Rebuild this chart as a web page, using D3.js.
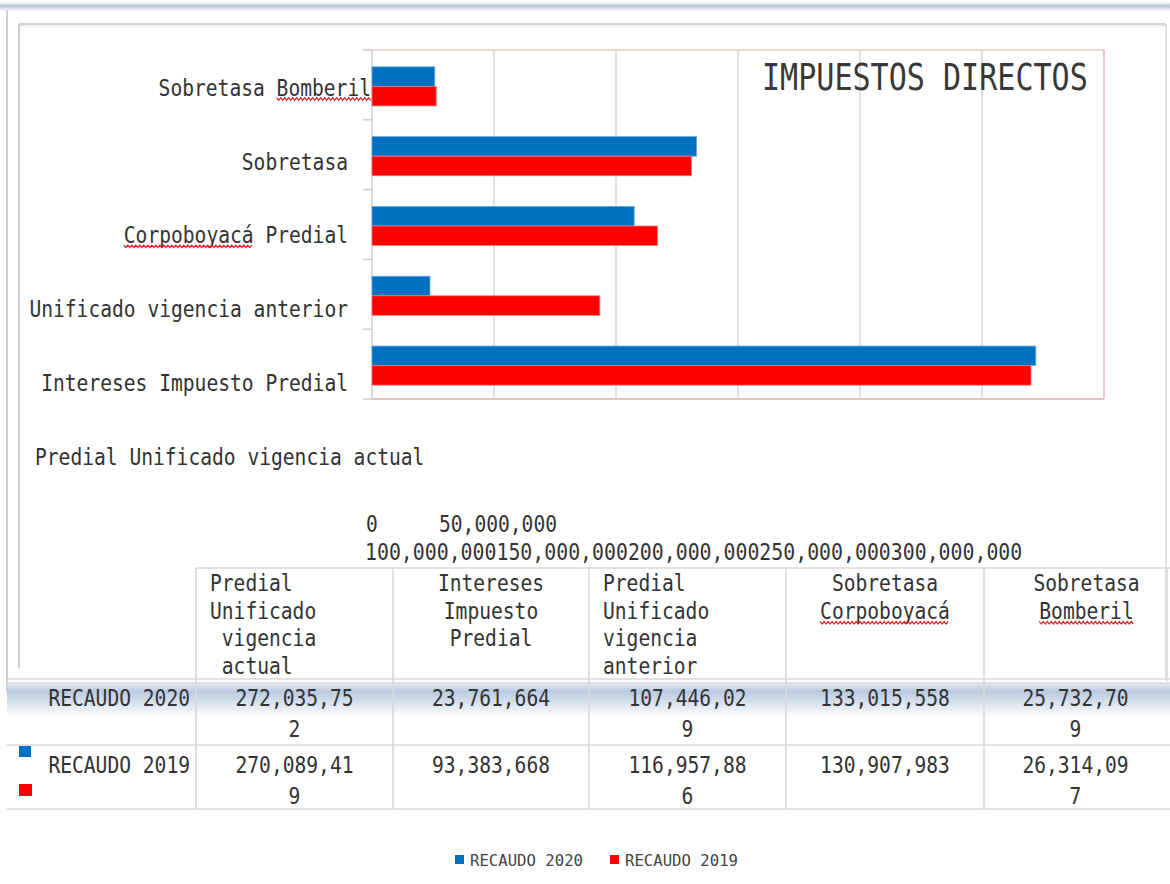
<!DOCTYPE html>
<html>
<head>
<meta charset="utf-8">
<script src="https://cdn.jsdelivr.net/npm/d3@7"></script>
<style>
  html, body { margin: 0; padding: 0; background: #fff; }
  svg { display: block; }
</style>
</head>
<body>
<svg id="chart" width="1170" height="884"></svg>
<script>
// ---- data ----
const categories = [
  "Predial Unificado vigencia actual",
  "Intereses Impuesto Predial",
  "Predial Unificado vigencia anterior",
  "Sobretasa Corpoboyacá",
  "Sobretasa Bomberil"
];
const seriesNames = ["RECAUDO 2020", "RECAUDO 2019"];
const recaudo2020 = [272035752, 23761664, 107446029, 133015558, 25732709];
const recaudo2019 = [270089419, 93383668, 116957886, 130907983, 26314097];
const seriesColors = ["#0070C0", "#FF0000"];
const xTicks = [0, 50000000, 100000000, 150000000, 200000000, 250000000, 300000000];
const chartTitle = "IMPUESTOS DIRECTOS";

// category axis text as it flows beside the bars
const axisTextLines = [
  "Sobretasa Bomberil",
  "Sobretasa",
  "Corpoboyacá Predial",
  "Unificado vigencia anterior",
  "Intereses Impuesto Predial"
];
const axisTextTail = "Predial Unificado vigencia actual";

// data table header lines per column
const headerLines = [
  ["Predial", "Unificado", " vigencia", " actual"],
  ["Intereses", "Impuesto", "Predial"],
  ["Predial", "Unificado", "vigencia", "anterior"],
  ["Sobretasa", "Corpoboyacá"],
  ["Sobretasa", "Bomberil"]
];
const headerAlign = ["start", "middle", "start", "middle", "middle"];
const cellWrap = [10, 11, 10, 11, 9];   // characters that fit on one line per column
const underlinedWords = ["Corpoboyacá", "Bomberil"];

// ---- setup ----
const svg = d3.select("#chart");
const FONT = "'DejaVu Sans Mono', monospace";
const FS = 23.6;          // body text size
const CW = FS * 0.5;      // half-width glyph advance
const TXT = "#333333";
const fmt = d3.format(",");

// text helper: fixed half-width advance per character
function monoText(g, str, x, y, opts = {}) {
  const fs = opts.size || FS;
  const cw = opts.cw || fs * 0.5;
  const w = str.length * cw;
  let x0 = x;
  if (opts.anchor === "end") x0 = x - w;
  else if (opts.anchor === "middle") x0 = x - w / 2;
  g.append("text")
    .attr("x", x0).attr("y", y)
    .attr("font-family", FONT)
    .attr("font-size", fs)
    .attr("fill", opts.fill || TXT)
    .attr("textLength", w)
    .attr("lengthAdjust", "spacingAndGlyphs")
    .style("white-space", "pre")
    .text(str);
  return { x0, w, cw };
}

// red spell-check squiggle
function squiggle(g, x1, x2, y) {
  const pts = [];
  const step = 2;
  for (let x = x1, i = 0; x <= x2; x += step, i++) {
    pts.push([x, y + (i % 2 === 0 ? -1.3 : 1.3)]);
  }
  g.append("path")
    .attr("d", d3.line()(pts))
    .attr("fill", "none")
    .attr("stroke", "#e8191e")
    .attr("stroke-width", 1.1);
}

function underlineWord(g, str, info, y) {
  underlinedWords.forEach(word => {
    const i = str.indexOf(word);
    if (i >= 0) squiggle(g, info.x0 + i * info.cw, info.x0 + (i + word.length) * info.cw, y);
  });
}

// ---- gradients ----
const defs = svg.append("defs");
const band = defs.append("linearGradient").attr("id", "bandGrad")
  .attr("x1", 0).attr("y1", 0).attr("x2", 0).attr("y2", 1);
band.append("stop").attr("offset", "0%").attr("stop-color", "#e4ebf4");
band.append("stop").attr("offset", "25%").attr("stop-color", "#b9cadf");
band.append("stop").attr("offset", "100%").attr("stop-color", "#ffffff");
const topBand = defs.append("linearGradient").attr("id", "topGrad")
  .attr("x1", 0).attr("y1", 0).attr("x2", 0).attr("y2", 1);
topBand.append("stop").attr("offset", "0%").attr("stop-color", "#ffffff");
topBand.append("stop").attr("offset", "45%").attr("stop-color", "#b4c5da");
topBand.append("stop").attr("offset", "100%").attr("stop-color", "#ffffff");

// ---- frames ----
const frame = svg.append("g");
frame.append("rect").attr("x", 0).attr("y", 2).attr("width", 1170).attr("height", 9)
  .attr("fill", "url(#topGrad)");
const frameLine = (x1, y1, x2, y2, c = "#c4c4c4", w = 1.6) =>
  frame.append("line").attr("x1", x1).attr("y1", y1).attr("x2", x2).attr("y2", y2)
    .attr("stroke", c).attr("stroke-width", w);
frameLine(7, 10, 7, 692);
frameLine(19, 24, 19, 668);
frameLine(19, 24, 1166, 24);
frameLine(20, 26, 1165, 26, "#ececec", 1.5);
frameLine(1166, 24, 1166, 680, "#d6d6d6", 1.5);

// ---- plot area ----
const plot = { left: 372, right: 1104, top: 50, bottom: 399 };
const x = d3.scaleLinear().domain([0, d3.max(xTicks)]).range([plot.left, plot.right]);
const y = d3.scaleBand().domain(categories.slice().reverse())
  .range([plot.top + 1.5, plot.bottom + 1.5]).paddingInner(0.44).paddingOuter(0.22);
const ySub = d3.scaleBand().domain(seriesNames).range([0, y.bandwidth()]);

const gp = svg.append("g");
// vertical gridlines
gp.selectAll("line.grid").data(xTicks.slice(1, -1)).join("line")
  .attr("x1", d => x(d)).attr("x2", d => x(d))
  .attr("y1", plot.top).attr("y2", plot.bottom)
  .attr("stroke", "#d8d8d8").attr("stroke-width", 1.5);
// plot border
gp.append("line").attr("x1", 363).attr("x2", plot.right).attr("y1", plot.top).attr("y2", plot.top)
  .attr("stroke", "#f2d6d2").attr("stroke-width", 2);
gp.append("line").attr("x1", plot.right).attr("x2", plot.right).attr("y1", plot.top).attr("y2", plot.bottom)
  .attr("stroke", "#ecc9c4").attr("stroke-width", 2);
gp.append("line").attr("x1", plot.left).attr("x2", plot.right).attr("y1", plot.bottom).attr("y2", plot.bottom)
  .attr("stroke", "#e6c2bc").attr("stroke-width", 2);
// category axis with ticks at the band boundaries
gp.append("line").attr("x1", plot.left).attr("x2", plot.left).attr("y1", plot.top).attr("y2", plot.bottom)
  .attr("stroke", "#cfcfcf").attr("stroke-width", 1.5);
const boundary = d3.scaleLinear().domain([0, categories.length]).range([plot.top, plot.bottom]);
gp.selectAll("line.ytick").data(d3.range(categories.length + 1)).join("line")
  .attr("x1", plot.left - 9).attr("x2", plot.left)
  .attr("y1", i => boundary(i)).attr("y2", i => boundary(i))
  .attr("stroke", "#d0d0d0").attr("stroke-width", 1.5);

// bars
const rows = categories.map((c, i) => ({ cat: c, vals: [recaudo2020[i], recaudo2019[i]] }));
const gb = gp.selectAll("g.cat").data(rows).join("g")
  .attr("transform", d => `translate(0,${y(d.cat)})`);
gb.selectAll("rect").data(d => d.vals.map((v, k) => ({ v, k }))).join("rect")
  .attr("x", x(0))
  .attr("y", d => ySub(seriesNames[d.k]))
  .attr("width", d => x(d.v) - x(0))
  .attr("height", ySub.bandwidth())
  .attr("fill", d => seriesColors[d.k])
  .attr("stroke", d => d.k === 0 ? "#6aa6dc" : "#f27a7a")
  .attr("stroke-width", 0.8);

// title
monoText(svg, chartTitle, 762, 90, { size: 37, cw: 18.1, fill: "#383838" });

// category text beside the axis
const gl = svg.append("g");
const lineGap = 73.7;
axisTextLines.forEach((s, i) => {
  const endX = i === 0 ? 371 : 348;
  const by = 96 + i * lineGap;
  const info = monoText(gl, s, endX, by, { anchor: "end" });
  underlineWord(gl, s, info, by + 3);
});
monoText(gl, axisTextTail, 35, 465);

// value axis labels (wrapped)
const tickStr = xTicks.map(fmt);
monoText(gl, tickStr[0], x(xTicks[0]), 532, { anchor: "middle" });
monoText(gl, tickStr[1], x(xTicks[1]) + 4, 532, { anchor: "middle" });
monoText(gl, tickStr.slice(2).join(""), x(0) - 7, 560, { cw: 11.95 });

// ---- data table ----
const gt = svg.append("g");
const colEdges = [196, 393, 589, 786, 984, 1167];
const headerShift = [0, 0, 0, 0, 11];   // right cell header sits a little off centre
const headTop = 568, row1Top = 681, row2Top = 745, tableBottom = 809;

gt.append("rect").attr("x", 7).attr("y", row1Top + 2).attr("width", 1163).attr("height", 34)
  .attr("fill", "url(#bandGrad)");

const tLine = (x1, y1, x2, y2) => gt.append("line")
  .attr("x1", x1).attr("y1", y1).attr("x2", x2).attr("y2", y2)
  .attr("stroke", "#d9d9d9").attr("stroke-width", 1.6);
tLine(colEdges[0], headTop, 1170, headTop);
tLine(7, row1Top - 2, 1170, row1Top - 2);
tLine(7, row1Top + 2, 1170, row1Top + 2);
tLine(7, row2Top, 1170, row2Top);
tLine(7, tableBottom, 1170, tableBottom);
colEdges.slice(0, 5).forEach(cx => tLine(cx, headTop, cx, tableBottom));
tLine(colEdges[5], headTop, colEdges[5], row1Top);

// header cells
headerLines.forEach((lines, c) => {
  const l = colEdges[c], r = colEdges[c + 1];
  lines.forEach((s, j) => {
    const by = 591 + j * 27.7;
    let info;
    if (headerAlign[c] === "start") {
      const lead = s.length - s.trimStart().length;
      const t = s.trimStart();
      info = monoText(gt, t, l + 14 + lead * CW, by);
      underlineWord(gt, t, info, by + 4);
    } else {
      info = monoText(gt, s, (l + r) / 2 + headerShift[c], by, { anchor: "middle" });
      underlineWord(gt, s, info, by + 4);
    }
  });
});

// value cells: numbers wrap where the column runs out of room
const seriesVals = [recaudo2020, recaudo2019];
const rowBase = [706, 773];
seriesVals.forEach((vals, k) => {
  monoText(gt, seriesNames[k], 190, rowBase[k], { anchor: "end" });
  vals.forEach((v, c) => {
    const s = fmt(v);
    const cx = (colEdges[c] + colEdges[c + 1]) / 2;
    const n = cellWrap[c];
    const parts = s.length > n ? [s.slice(0, n), s.slice(n)] : [s];
    parts.forEach((p, j) => monoText(gt, p, cx, rowBase[k] + j * 31, { anchor: "middle" }));
  });
});
// series keys in the table
gt.append("rect").attr("x", 19).attr("y", 746).attr("width", 12).attr("height", 11).attr("fill", seriesColors[0]);
gt.append("rect").attr("x", 19).attr("y", 784).attr("width", 13).attr("height", 12).attr("fill", seriesColors[1]);

// ---- legend ----
const legX = [455, 610];
const gLeg = svg.append("g");
seriesNames.forEach((n, k) => {
  gLeg.append("rect").attr("x", legX[k]).attr("y", 855).attr("width", 9).attr("height", 9)
    .attr("fill", seriesColors[k]);
  gLeg.append("text").attr("x", legX[k] + 15).attr("y", 866)
    .attr("font-family", FONT).attr("font-size", 15).attr("fill", "#454545")
    .attr("textLength", 113).attr("lengthAdjust", "spacingAndGlyphs")
    .text(n);
});
</script>
</body>
</html>
